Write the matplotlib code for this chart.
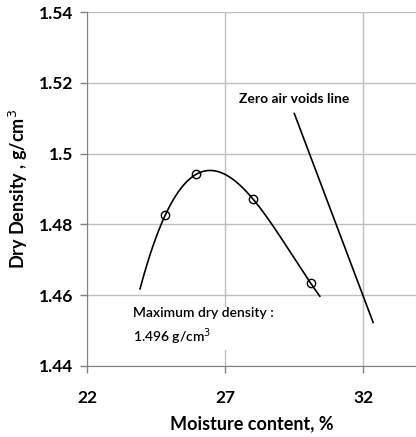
import numpy as np
import matplotlib.pyplot as plt

plt.rcParams['font.family'] = ['Lato', 'DejaVu Sans']

# measured points (moisture %, dry density g/cm3)
moisture = [24.83, 25.96, 27.99, 30.09]
density = [1.4826, 1.4942, 1.4873, 1.4634]

# zero air voids line end points
zav_x = [29.5, 32.35]
zav_y = [1.5113, 1.4523]

x_ticks = [22, 27, 32]
y_ticks = [1.44, 1.46, 1.48, 1.5, 1.52, 1.54]
y_labels = ['1.44', '1.46', '1.48', '1.5', '1.52', '1.54']

fig = plt.figure(figsize=(4.16, 4.37), dpi=100)
ax = fig.add_axes([0.209, 0.1625, 0.791, 0.81])

# trendline (cubic) through the measured points
coef = np.polyfit(moisture, density, 3)
xs = np.linspace(23.92, 30.42, 200)
ax.plot(xs, np.polyval(coef, xs), color='black', lw=1.2, zorder=3)
ax.plot(moisture, density, 'o', mfc='none', mec='black', ms=6, mew=1, zorder=4)
ax.plot(zav_x, zav_y, color='black', lw=1.2, zorder=3)

ax.set_xlim(22, 33.9)
ax.set_ylim(1.44, 1.54)
ax.set_xticks(x_ticks)
ax.set_yticks(y_ticks)
ax.set_yticklabels(y_labels)
ax.grid(True, color='#bfbfbf', lw=1)
ax.set_axisbelow(True)
for s in ['top', 'right']:
    ax.spines[s].set_visible(False)
ax.spines['left'].set_color('#808080')
ax.spines['bottom'].set_color('#808080')
ax.tick_params(axis='both', colors='#808080', labelcolor='black', length=5, width=1)
for lab in ax.get_xticklabels() + ax.get_yticklabels():
    lab.set_fontsize(12.5)
    lab.set_fontweight('bold')
ax.tick_params(axis='x', pad=12)
ax.tick_params(axis='y', pad=5)

ax.set_xlabel('Moisture content, %', fontsize=13, fontweight='bold', labelpad=7)
ax.set_ylabel('Dry Density , g/cm$^3$', fontsize=13, fontweight='bold', labelpad=6)

ax.text(27.5, 1.5155, 'Zero air voids line', fontsize=10, fontweight='bold',
        va='center', ha='left')
ax.text(23.65, 1.451, 'Maximum dry density :\n1.496 g/cm$^3$', fontsize=10,
        fontweight='semibold', va='center', ha='left', linespacing=1.5,
        bbox=dict(facecolor='white', edgecolor='none', pad=2))

fig.savefig('out.png', dpi=100)
